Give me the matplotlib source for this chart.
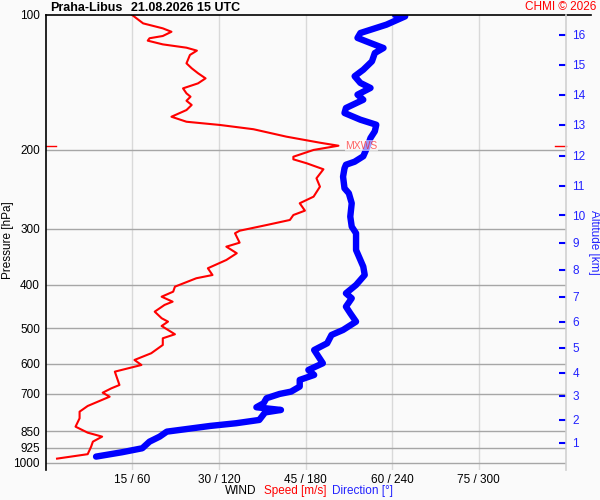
import matplotlib
matplotlib.use('Agg')
import matplotlib.pyplot as plt
import numpy as np

plt.rcParams['font.family'] = ['Liberation Sans', 'DejaVu Sans']

# wind speed profile [m/s] vs pressure [hPa]
spd_p = [100, 104.4, 107.1, 109.0, 111.4, 112.7, 114.1, 116.3, 118.3, 120.1,
         122.8, 128.2, 131.5, 134.9, 138.5, 142.1, 145.8, 149.6, 152.2, 155.4,
         158.8, 163.0, 168.7, 173.1, 176.0, 179.9, 186.9, 192.8, 195.8, 200.1,
         207.2, 210.0, 214.3, 221.0, 231.5, 241.7, 254.4, 263.2, 273.4, 279.6,
         286.8, 294.3, 303.1, 307.1, 322.3, 329.0, 340.3, 352.3, 367.6, 380.6,
         387.0, 404.1, 414.6, 425.5, 436.5, 443.9, 459.5, 475.3, 483.7, 494.6,
         516.1, 526.9, 545.3, 569.0, 589.0, 604.4, 625.5, 669.9, 681.4, 696.9,
         711.4, 746.2, 768.4, 794.9, 829.9, 855.9, 873.6, 896.4, 919.6, 956.0,
         978.1]
spd = [15.0, 16.9, 20.3, 21.8, 20.3, 18.0, 17.7, 20.3, 24.4, 26.2,
       25.0, 24.4, 25.3, 26.4, 27.7, 26.4, 23.8, 24.4, 25.1, 24.4,
       25.3, 24.4, 21.8, 24.4, 30.2, 36.0, 41.7, 47.5, 50.7, 46.4,
       42.9, 42.9, 45.2, 48.1, 46.9, 47.5, 46.4, 44.0, 44.9, 42.9,
       42.3, 38.3, 33.6, 32.8, 33.6, 31.3, 33.1, 31.3, 28.1, 28.9,
       26.1, 22.4, 22.1, 20.1, 22.0, 20.6, 18.9, 20.1, 21.2, 20.1,
       22.4, 20.3, 20.3, 18.3, 15.4, 16.6, 12.0, 12.8, 11.4, 9.9,
       11.1, 7.3, 5.9, 5.9, 5.2, 7.3, 9.8, 8.2, 7.9, 7.3,
       2.0]

# wind direction profile [deg] vs pressure [hPa]
dir_p = [100, 100.7, 105.1, 109.7, 112.5, 115.5, 118.5, 121.6, 126.9, 132.5,
         137.0, 141.8, 145.5, 150.6, 154.6, 161.3, 165.5, 171.3, 175.8, 181.8,
         188.2, 196.4, 206.7, 212.6, 215.9, 219.9, 229.6, 243.7, 250.0, 263.2,
         281.9, 296.8, 307.1, 334.7, 352.3, 364.6, 380.6, 400.6, 418.1, 429.0,
         447.8, 463.3, 483.7, 504.8, 518.0, 540.6, 559.6, 579.1, 599.1, 620.0,
         636.2, 652.6, 675.3, 693.1, 701.5, 717.1, 735.7, 751.1, 761.6, 771.4,
         801.7, 815.4, 826.8, 851.4, 873.6, 896.4, 927.3, 946.5, 968.0]
wdir = [242, 249, 236, 218, 216, 225, 234, 228, 226, 220,
        214, 218, 225, 216, 220, 208, 207, 218, 229, 228,
        225, 223, 220, 214, 208, 207, 206, 207, 210, 212,
        211, 212, 215, 215, 218, 220, 221, 215, 208, 212,
        208, 211, 215, 206, 198, 195, 186, 189, 192, 182,
        186, 176, 176, 170, 162, 153, 151, 146, 163, 152,
        148, 132, 114, 84, 79, 72, 67, 53, 35]

p_levels = [100, 200, 300, 400, 500, 600, 700, 850, 925, 1000]
x_ticks = [15, 30, 45, 60, 75]
x_labels = ['15 / 60', '30 / 120', '45 / 180', '60 / 240', '75 / 300']
alt_km = list(range(1, 17))
alt_p = [902.4, 801.7, 708.8, 629.7, 553.8, 484.5, 426.1, 370.9,
         322.8, 279.6, 240.8, 206.4, 176.0, 150.8, 129.3, 110.8]

bg = '#fafafa'
fig = plt.figure(figsize=(6, 5), dpi=100, facecolor=bg)
ax = fig.add_axes([45.5 / 600, 1 - 470 / 500, 520 / 600, 455 / 500])
ax.set_facecolor(bg)
ax.set_yscale('log')
ax.set_ylim(1037, 100)
ax.set_xlim(0, 90)

# grid
for x in x_ticks:
    ax.axvline(x, color='#d9d9d9', lw=1.0, zorder=1)
for p in p_levels[1:]:
    ax.axhline(p, color='#a6a6a6', lw=1.0, zorder=1)

ax.set_yticks(p_levels)
ax.set_yticklabels([str(p) for p in p_levels])
ax.minorticks_off()
ax.tick_params(axis='y', length=0, pad=4, labelsize=8.5)
ax.set_xticks(x_ticks)
ax.set_xticklabels(x_labels)
ax.tick_params(axis='x', length=0, pad=3, labelsize=8.5)

for s in ['top', 'bottom', 'right']:
    ax.spines[s].set_visible(False)
ax.spines['left'].set_color('black')
ax.spines['left'].set_linewidth(1.2)

# direction drawn on the same axis: 0-360 deg -> 0-90
ax.plot(np.array(wdir) / 4.0, dir_p, color='#0000ff', lw=4.6,
        solid_capstyle='round', solid_joinstyle='round', zorder=3)
ax.plot(spd, spd_p, color='#ff0000', lw=1.5, zorder=4)

# max wind marker
imax = int(np.argmax(spd))
p_mx = spd_p[imax]
ax.plot([0, 0.021], [p_mx, p_mx], color='red', lw=1.0, transform=ax.get_yaxis_transform(), clip_on=False)
ax.plot([0.979, 1.0], [p_mx, p_mx], color='red', lw=1.0, transform=ax.get_yaxis_transform(), clip_on=False)
ax.text(spd[imax] + 1.2, p_mx, 'MXWS', color='red', alpha=0.6, fontsize=7.5, va='center', ha='left',
        zorder=5, bbox=dict(boxstyle='square,pad=0.05', facecolor='white', edgecolor='none', alpha=0.6))

# top line
ax.plot([0, 1.049], [1, 1], color='black', lw=1.2, transform=ax.transAxes, clip_on=False, zorder=6)

# right altitude axis
ax2 = ax.twinx()
ax2.set_yscale('log')
ax2.set_ylim(1037, 100)
ax2.set_yticks(alt_p)
ax2.set_yticklabels([str(k) for k in alt_km])
ax2.minorticks_off()
ax2.tick_params(axis='y', direction='in', length=5, width=1.5, color='#0000ff',
                labelcolor='#2222ff', labelsize=8.5, pad=5)
for s in ['top', 'bottom', 'left']:
    ax2.spines[s].set_visible(False)
ax2.spines['right'].set_color('#d0d0d0')
ax2.spines['right'].set_linewidth(1.2)
ax2.set_ylabel('Altitude [km]', color='#2222ff', fontsize=8.5, rotation=270, labelpad=10)

fig.text(8 / 600, 1 - 240 / 500, 'Pressure [hPa]', rotation=90, ha='center', va='center', fontsize=8.5)

# titles
fig.text(50 / 600, 1 - 8 / 500, 'Praha-Libus', fontsize=9, fontweight='bold', ha='left', va='center')
fig.text(131 / 600, 1 - 8 / 500, '21.08.2026 15 UTC', fontsize=9, fontweight='bold', ha='left', va='center')
fig.text(596 / 600, 1 - 7 / 500, 'CHMI \u00a9 2026', fontsize=8.5, color='red', ha='right', va='center')

# bottom label row
fig.text(225 / 600, 1 - 491 / 500, 'WIND', fontsize=8.5, ha='left', va='center')
fig.text(264 / 600, 1 - 491 / 500, 'Speed [m/s]', fontsize=8.5, color='red', ha='left', va='center')
fig.text(332 / 600, 1 - 491 / 500, 'Direction [\u00b0]', fontsize=8.5, color='#2222ff', ha='left', va='center')

fig.savefig('out.png', dpi=100, facecolor=bg)
